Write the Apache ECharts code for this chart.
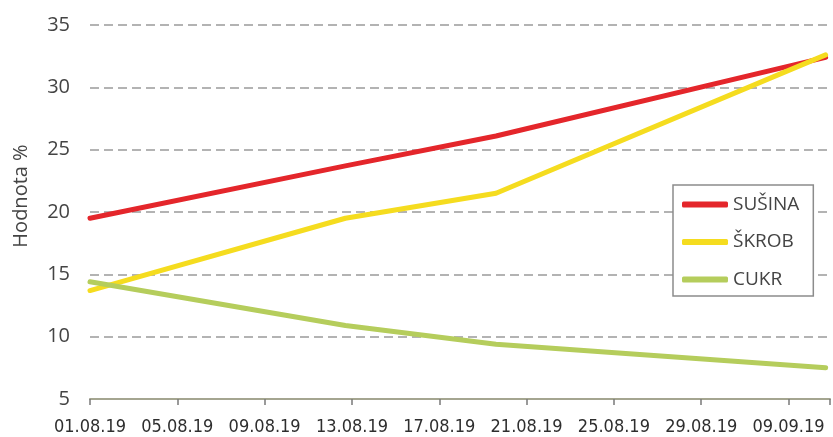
<!DOCTYPE html>
<html>
<head>
<meta charset="utf-8">
<script src="https://cdn.jsdelivr.net/npm/echarts@6/dist/echarts.min.js"></script>
<style>
html,body{margin:0;padding:0;background:#fff;}
#c{width:833px;height:437px;}
</style>
</head>
<body>
<div id="c"></div>
<script>
// tick labels of the x axis (one every 4 days from 01.08.19)
const xTickLabels = ['01.08.19','05.08.19','09.08.19','13.08.19','17.08.19','21.08.19','25.08.19','29.08.19','09.09.19'];
// measurement positions, in days after 01.08.19
const measureDays = [0, 11.7, 18.6, 33.7];
const susina = [19.5, 23.7, 26.1, 32.4];
const skrob  = [13.7, 19.5, 21.5, 32.6];
const cukr   = [14.4, 10.9, 9.4, 7.5];
const seriesNames = ['SUŠINA','ŠKROB','CUKR'];
const seriesColors = ['#e4262b','#f5dc1f','#b5cd5c'];
const yAxisTitle = 'Hodnota %';

function pairs(vals){ return measureDays.map((d,i)=>[d, vals[i]]); }

const chart = echarts.init(document.getElementById('c'));
const font = '"Open Sans", "Noto Sans", sans-serif';
chart.setOption({
  backgroundColor: '#fff',
  animation: false,
  grid: {left: 90, right: 1, top: 25, bottom: 38},
  graphic: [{
    type: 'text',
    x: 21, y: 196,
    rotation: Math.PI / 2,
    style: {
      text: yAxisTitle,
      fontFamily: font, fontSize: 20, fill: '#444',
      align: 'center', verticalAlign: 'middle'
    }
  }],
  legend: {
    orient: 'vertical',
    left: 673, top: 185,
    padding: [10, 14, 7, 9],
    icon: 'roundRect',
    itemWidth: 46, itemHeight: 6, itemGap: 18.5,
    backgroundColor: '#fff',
    borderColor: '#8c8c8c', borderWidth: 1.5,
    textStyle: {fontFamily: font, fontSize: 19, color: '#444', lineHeight: 18},
    data: seriesNames
  },
  xAxis: {
    type: 'value',
    min: 0, max: 33.9, interval: 4,
    axisLine: {show: true, lineStyle: {color: '#a4a590', width: 2}},
    axisTick: {show: true, length: 6, lineStyle: {color: '#7a7a7a', width: 1.5}},
    splitLine: {show: false},
    axisLabel: {
      margin: 19,
      showMinLabel: true,
      hideOverlap: false,
      fontFamily: '"DejaVu Sans Condensed", sans-serif',
      fontSize: 18, color: '#2e2e2e',
      formatter: function(v){
        const i = Math.round(v/4);
        return Math.abs(v - i*4) < 1e-6 && i < xTickLabels.length ? xTickLabels[i] : '';
      }
    }
  },
  yAxis: {
    type: 'value',
    min: 5, max: 35, interval: 5,
    axisLine: {show: false},
    axisTick: {show: false},
    axisLabel: {margin: 20, fontFamily: font, fontSize: 20, color: '#444'},
    splitLine: {show: true, lineStyle: {color: '#9a9a9a', width: 1.5, type: [9,5]}}
  },
  series: [susina, skrob, cukr].map((vals, i) => ({
    name: seriesNames[i],
    type: 'line',
    data: pairs(vals),
    symbol: 'none',
    color: seriesColors[i],
    lineStyle: {width: 5, color: seriesColors[i], cap: 'round'}
  }))
});
</script>
</body>
</html>
